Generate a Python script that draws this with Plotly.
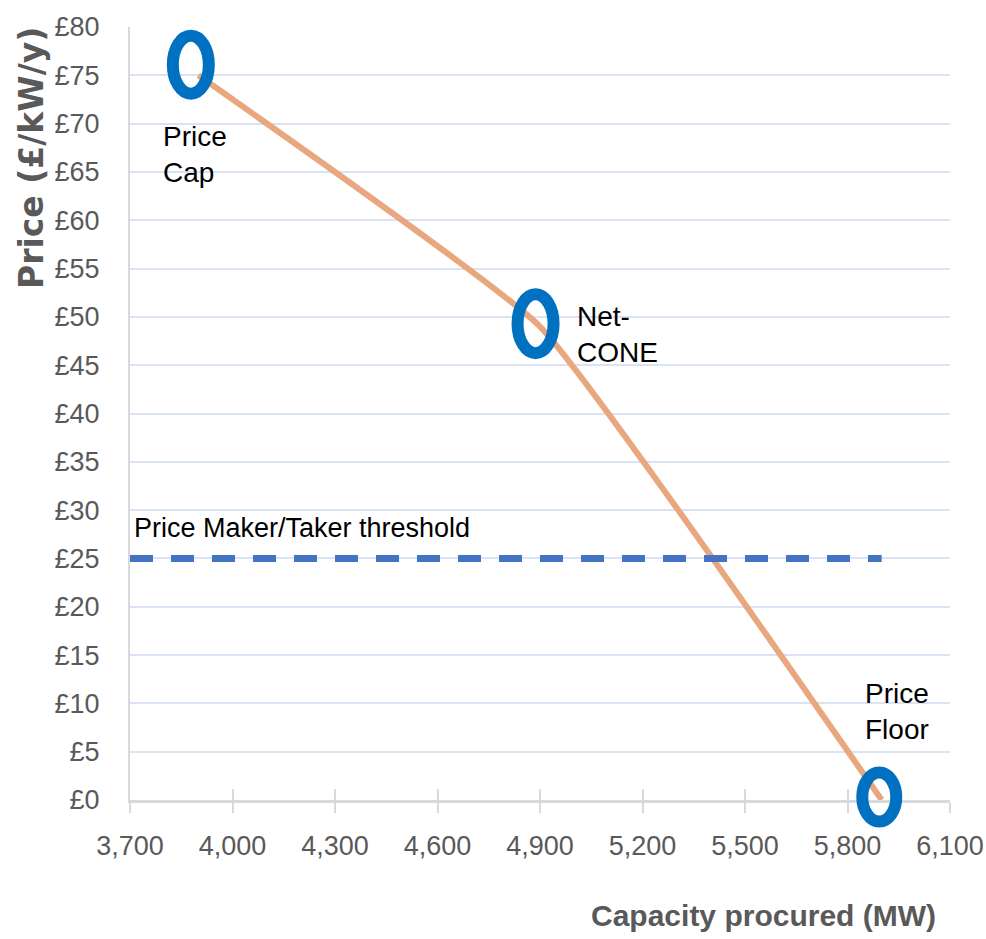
import plotly.graph_objects as go

# Capacity auction demand curve
capacity_mw = [3900, 4900, 5900]
price_gbp = [75, 49, 0]

# Key points highlighted with rings, and their labels
point_names = ["Price<br>Cap", "Net-<br>CONE", "Price<br>Floor"]
point_x = [3878, 4887, 5893]
point_y = [76.1, 49.3, 0.3]
label_x = [3790, 5002, 5845]
label_y = [66.8, 48.2, 9.2]

# Price maker / taker threshold
threshold_x = [3700, 5900]
threshold_y = [25, 25]
threshold_label = "Price Maker/Taker threshold"
threshold_label_x = 3706
threshold_label_y = 28.1

x_range = [3700, 6100]
y_range = [0, 80]
x_ticks = list(range(3700, 6101, 300))
y_ticks = list(range(0, 81, 5))
x_ticktext = [f"{v:,}" for v in x_ticks]
y_ticktext = [f"£{v}" for v in y_ticks]

SANS = "Liberation Sans, Arial, sans-serif"
GREY = "#595959"

# Ring outline sizes in pixels (width, height) for each highlighted point
ring_w = [36, 36, 34]
ring_h = [58, 59, 49]

fig = go.Figure()

fig.add_trace(go.Scatter(
    x=threshold_x, y=threshold_y, mode="lines", xaxis="x2",
    line=dict(color="#4472C4", width=7, dash="23px,18px"),
    hoverinfo="skip", showlegend=False,
))

fig.add_trace(go.Scatter(
    x=capacity_mw, y=price_gbp, mode="lines",
    line=dict(color="#E8A77E", width=6, shape="spline", smoothing=0.35),
    showlegend=False,
))

# Rings around the key points; vertical placement uses the y-domain so the
# ring at the price floor is not cut off by the plot edge
for px, py, rw, rh in zip(point_x, point_y, ring_w, ring_h):
    fig.add_shape(
        type="circle", xref="x", yref="y domain",
        xsizemode="pixel", ysizemode="pixel",
        xanchor=px, yanchor=(py - y_range[0]) / (y_range[1] - y_range[0]),
        x0=-rw / 2, x1=rw / 2, y0=-rh / 2, y1=rh / 2,
        line=dict(color="#0070C0", width=12),
        layer="above",
    )

for name, lx, ly in zip(point_names, label_x, label_y):
    fig.add_annotation(
        x=lx, y=ly, xref="x", yref="y", text=name, showarrow=False,
        xanchor="left", yanchor="middle", align="left",
        font=dict(family=SANS, size=28, color="#000000"),
    )

fig.add_annotation(
    x=threshold_label_x, y=threshold_label_y, xref="x", yref="y",
    text=threshold_label, showarrow=False,
    xanchor="left", yanchor="middle", align="left",
    font=dict(family=SANS, size=27, color="#000000"),
)

# Axis titles
fig.add_annotation(
    x=-0.1195, y=1.0026, xref="paper", yref="paper",
    text="<b>Price (£/kW/y)</b>", showarrow=False, textangle=-90,
    xanchor="center", yanchor="top",
    font=dict(family="DejaVu Sans, Liberation Sans, sans-serif", size=33, color=GREY),
)
fig.add_annotation(
    x=0.9854, y=-0.1488, xref="paper", yref="paper",
    text="<b>Capacity procured (MW)</b>", showarrow=False,
    xanchor="right", yanchor="middle",
    font=dict(family=SANS, size=30, color=GREY),
)

fig.update_layout(
    width=986, height=939,
    margin=dict(l=130, r=36, t=27, b=139, autoexpand=False),
    paper_bgcolor="white", plot_bgcolor="white",
    showlegend=False,
    xaxis=dict(
        range=x_range, tickvals=x_ticks, ticktext=x_ticktext,
        showgrid=False, zeroline=False, automargin=False,
        showline=True, linecolor="#D9D9D9", linewidth=3,
        ticks="outside", ticklen=10, tickwidth=2, tickcolor="#D9D9D9",
        tickfont=dict(family=SANS, size=27, color=GREY),
        ticklabelstandoff=10,
        fixedrange=True,
    ),
    xaxis2=dict(
        range=x_range, matches="x", overlaying="x", side="bottom",
        tickvals=x_ticks, showticklabels=False, automargin=False,
        showgrid=False, zeroline=False, showline=False,
        ticks="inside", ticklen=11, tickwidth=2, tickcolor="#D9D9D9",
        fixedrange=True,
    ),
    yaxis=dict(
        range=y_range, tickvals=y_ticks, ticktext=y_ticktext,
        showgrid=True, gridcolor="#DAE3F3", gridwidth=2,
        zeroline=False, automargin=False,
        showline=True, linecolor="#D9D9D9", linewidth=2,
        ticks="", tickfont=dict(family=SANS, size=27, color=GREY),
        ticklabelstandoff=23,
        fixedrange=True,
    ),
)

fig.write_html("out.html")
